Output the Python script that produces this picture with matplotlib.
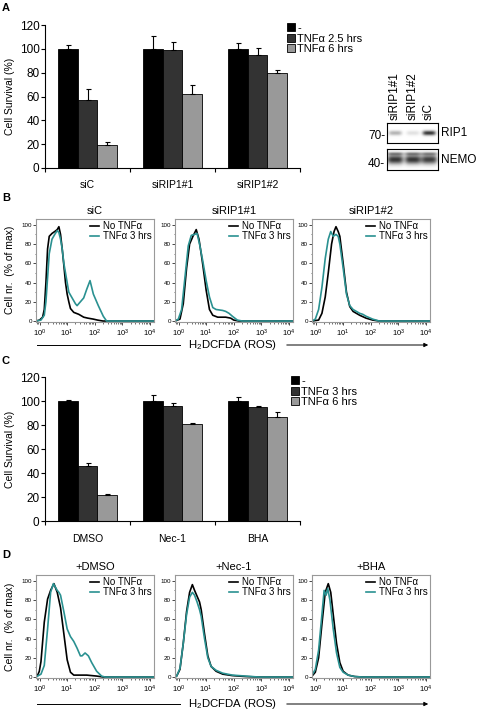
import numpy as np
import matplotlib
matplotlib.use("Agg")
import matplotlib.pyplot as plt
from matplotlib.patches import FancyArrowPatch
from matplotlib.lines import Line2D

plt.rcParams['font.family'] = ['Liberation Sans', 'DejaVu Sans']
plt.rcParams['mathtext.fontset'] = 'custom'
plt.rcParams['mathtext.rm'] = 'Liberation Sans'
plt.rcParams['mathtext.it'] = 'Liberation Sans:italic'
plt.rcParams['mathtext.bf'] = 'Liberation Sans:bold'

# ---- bar data (cell survival, %) ----
a_groups = ['siC', 'siRIP1#1', 'siRIP1#2']
a_labels = ['-', 'TNFα 2.5 hrs', 'TNFα 6 hrs']
a_ctrl = [100, 100, 100]
a_ctrl_err = [3.5, 11, 5]
a_t1 = [57, 99, 95]
a_t1_err = [9, 7, 6]
a_t2 = [19.5, 62.5, 80]
a_t2_err = [2, 7, 2]

c_groups = ['DMSO', 'Nec-1', 'BHA']
c_labels = ['-', 'TNFα 3 hrs', 'TNFα 6 hrs']
c_ctrl = [100, 100, 100]
c_ctrl_err = [1, 5, 3.5]
c_t1 = [45.5, 95.5, 95]
c_t1_err = [2.5, 2.5, 0.8]
c_t2 = [21.5, 81, 87]
c_t2_err = [1, 1, 3.5]

# ---- western blot ----
blot_lanes = ['siRIP1#1', 'siRIP1#2', 'siC']
rip1_level = [0.3, 0.12, 0.8]
nemo_level = [1.0, 1.0, 0.95]

# ---- flow histograms: log10(fluorescence), % of max ----
b_titles = ['siC', 'siRIP1#1', 'siRIP1#2']
d_titles = ['+DMSO', '+Nec-1', '+BHA']

b_sic_ctrl_x = [-0.13, 0.0, 0.11, 0.17, 0.23, 0.29, 0.35, 0.45, 0.55, 0.64, 0.70, 0.76, 0.82, 0.88, 0.94, 1.0, 1.06, 1.12, 1.24, 1.42, 1.6, 1.75, 1.95, 2.1, 2.3, 4.15]
b_sic_ctrl_y = [0, 1, 4, 12, 40, 75, 88, 91, 93, 95, 98, 90, 75, 58, 40, 28, 20, 13, 9, 7, 4, 3, 2, 1, 0, 0]
b_sic_tnf_x = [-0.13, 0.05, 0.17, 0.23, 0.29, 0.35, 0.45, 0.55, 0.64, 0.70, 0.76, 0.82, 0.88, 0.94, 1.06, 1.18, 1.3, 1.36, 1.48, 1.6, 1.71, 1.83, 1.95, 2.13, 2.31, 2.43, 4.15]
b_sic_tnf_y = [0, 1, 6, 20, 45, 70, 85, 90, 94, 92, 85, 75, 60, 50, 30, 24, 18, 16, 20, 24, 33, 42, 28, 16, 5, 0, 0]

b_r1_ctrl_x = [-0.13, 0.05, 0.17, 0.29, 0.40, 0.52, 0.64, 0.74, 0.82, 0.88, 1.0, 1.12, 1.24, 1.42, 1.71, 1.89, 2.0, 2.19, 4.15]
b_r1_ctrl_y = [0, 2, 18, 55, 80, 88, 95, 85, 70, 58, 32, 12, 6, 4, 4, 3, 1, 0, 0]
b_r1_tnf_x = [-0.13, -0.01, 0.11, 0.23, 0.35, 0.46, 0.58, 0.67, 0.76, 0.88, 1.0, 1.12, 1.24, 1.36, 1.6, 1.71, 1.83, 1.95, 2.13, 2.31, 4.15]
b_r1_tnf_y = [0, 2, 12, 45, 78, 89, 90, 91, 80, 62, 42, 25, 14, 12, 11, 10, 8, 5, 1, 0, 0]

b_r2_ctrl_x = [-0.13, 0.11, 0.23, 0.35, 0.46, 0.58, 0.67, 0.74, 0.82, 0.88, 1.0, 1.12, 1.24, 1.36, 1.6, 1.83, 2.07, 2.31, 4.15]
b_r2_ctrl_y = [0, 1, 8, 25, 50, 80, 93, 98, 93, 88, 60, 30, 15, 10, 6, 3, 1, 0, 0]
b_r2_tnf_x = [-0.13, -0.01, 0.11, 0.23, 0.35, 0.46, 0.55, 0.64, 0.74, 0.82, 0.88, 1.0, 1.12, 1.24, 1.36, 1.6, 1.71, 1.83, 2.07, 2.31, 4.15]
b_r2_tnf_y = [0, 2, 12, 35, 65, 85, 93, 88, 90, 88, 80, 55, 28, 16, 12, 8, 7, 5, 2, 0, 0]

d_dmso_ctrl_x = [-0.13, -0.07, -0.01, 0.05, 0.17, 0.29, 0.40, 0.52, 0.64, 0.76, 0.88, 1.0, 1.12, 1.24, 1.71, 2.07, 2.31, 4.15]
d_dmso_ctrl_y = [0, 2, 6, 16, 57, 81, 90, 97, 88, 72, 45, 18, 5, 2, 2, 1, 0, 0]
d_dmso_tnf_x = [-0.13, 0.05, 0.17, 0.29, 0.40, 0.50, 0.64, 0.70, 0.76, 0.88, 1.0, 1.12, 1.24, 1.36, 1.48, 1.54, 1.65, 1.77, 1.89, 2.07, 2.25, 2.37, 4.15]
d_dmso_tnf_y = [0, 3, 12, 50, 88, 97, 90, 88, 85, 68, 50, 42, 37, 30, 22, 22, 25, 22, 15, 6, 1, 0, 0]

d_nec_ctrl_x = [-0.13, -0.07, 0.05, 0.17, 0.29, 0.40, 0.50, 0.58, 0.67, 0.76, 0.82, 0.94, 1.06, 1.18, 1.36, 1.6, 1.95, 2.43, 2.9, 4.15]
d_nec_ctrl_y = [0, 1, 8, 35, 68, 88, 96, 90, 84, 78, 70, 45, 22, 11, 6, 3, 1.5, 0.5, 0, 0]
d_nec_tnf_x = [-0.13, -0.07, 0.05, 0.17, 0.29, 0.40, 0.50, 0.58, 0.67, 0.76, 0.82, 0.94, 1.06, 1.18, 1.36, 1.6, 1.95, 2.43, 2.9, 4.15]
d_nec_tnf_y = [0, 1, 9, 35, 65, 83, 88, 85, 78, 70, 63, 40, 20, 11, 7, 4, 2, 1, 0, 0]

d_bha_ctrl_x = [-0.13, -0.01, 0.11, 0.23, 0.35, 0.46, 0.55, 0.64, 0.76, 0.88, 1.0, 1.18, 1.42, 1.71, 4.15]
d_bha_ctrl_y = [1, 5, 20, 55, 88, 97, 88, 65, 35, 15, 6, 2, 0.5, 0, 0]
d_bha_tnf_x = [-0.13, -0.01, 0.11, 0.23, 0.31, 0.38, 0.44, 0.52, 0.64, 0.76, 0.88, 1.0, 1.18, 1.42, 1.71, 4.15]
d_bha_tnf_y = [2, 8, 28, 65, 90, 85, 92, 80, 50, 25, 10, 5, 2, 0.5, 0, 0]

b_curves = [(b_sic_ctrl_x, b_sic_ctrl_y, b_sic_tnf_x, b_sic_tnf_y),
            (b_r1_ctrl_x, b_r1_ctrl_y, b_r1_tnf_x, b_r1_tnf_y),
            (b_r2_ctrl_x, b_r2_ctrl_y, b_r2_tnf_x, b_r2_tnf_y)]
d_curves = [(d_dmso_ctrl_x, d_dmso_ctrl_y, d_dmso_tnf_x, d_dmso_tnf_y),
            (d_nec_ctrl_x, d_nec_ctrl_y, d_nec_tnf_x, d_nec_tnf_y),
            (d_bha_ctrl_x, d_bha_ctrl_y, d_bha_tnf_x, d_bha_tnf_y)]

W, H = 483, 713
TEAL = '#2a9191'
BAR_COLORS = ['#000000', '#333333', '#999999']

fig = plt.figure(figsize=(W / 100, H / 100), dpi=100)


def px_box(x0, y0, x1, y1):
    return [x0 / W, 1 - y1 / H, (x1 - x0) / W, (y1 - y0) / H]


def fx(x):
    return x / W


def fy(y):
    return 1 - y / H


def bar_panel(rect, groups, labels, vals, errs, legend_xy):
    ax = fig.add_axes(rect)
    x = np.arange(len(groups))
    w = 0.23
    handles = []
    for i in range(3):
        h = ax.bar(x + (i - 1) * w, vals[i], w, color=BAR_COLORS[i], edgecolor='k', lw=0.6, label=labels[i])
        ax.errorbar(x + (i - 1) * w, vals[i], yerr=[np.zeros(len(x)), errs[i]], fmt='none',
                    ecolor='k', elinewidth=0.8, capsize=1.8, capthick=0.8)
        handles.append(h)
    ax.set_xlim(-0.5, 2.5)
    ax.set_ylim(0, 120)
    ax.set_yticks(range(0, 121, 20))
    ax.tick_params(axis='y', labelsize=8.5, length=3, width=0.8, pad=1)
    ax.set_xticks([-0.5, 0.5, 1.5, 2.5])
    ax.set_xticklabels([])
    ax.tick_params(axis='x', which='major', length=3, width=0.8)
    ax.set_xticks(x, minor=True)
    ax.set_xticklabels(groups, minor=True, fontsize=7.5)
    ax.tick_params(axis='x', which='minor', length=0, pad=9)
    ax.spines['top'].set_visible(False)
    ax.spines['right'].set_visible(False)
    ax.spines['left'].set_linewidth(0.8)
    ax.spines['bottom'].set_linewidth(0.8)
    ax.set_ylabel('Cell Survival (%)', fontsize=7.5, labelpad=3)
    ax.legend(handles=handles, loc='upper left', bbox_to_anchor=legend_xy, bbox_transform=fig.transFigure,
              frameon=False, fontsize=8, handlelength=0.75, handleheight=0.75, handletextpad=0.15,
              labelspacing=0.05, borderpad=0, borderaxespad=0)
    return ax


def hist_panel(rect, curves, title):
    ax = fig.add_axes(rect)
    cx, cy, tx, ty = curves
    ax.plot(10 ** np.array(cx), cy, color='k', lw=1.2, label='No TNFα')
    ax.plot(10 ** np.array(tx), ty, color=TEAL, lw=1.2, label='TNFα 3 hrs')
    ax.set_xscale('log')
    ax.set_xlim(10 ** -0.13, 10 ** 4.15)
    ax.set_ylim(-1, 106)
    ax.set_xticks([1, 10, 100, 1000, 10000])
    ax.set_yticks(range(0, 101, 20))
    ax.set_yticks(range(0, 101, 10), minor=True)
    ax.tick_params(axis='y', which='major', labelsize=4.5, length=2, width=0.5, pad=1)
    ax.tick_params(axis='y', which='minor', length=1, width=0.4)
    ax.tick_params(axis='x', which='major', labelsize=5.5, length=2.5, width=0.5, pad=1.5)
    ax.tick_params(axis='x', which='minor', length=1.2, width=0.4)
    for s in ax.spines.values():
        s.set_color('0.6')
        s.set_linewidth(0.8)
    ax.set_title(title, fontsize=8, pad=3.5)
    ax.legend(loc='upper right', frameon=False, fontsize=7, handlelength=1.0, handletextpad=0.35,
              labelspacing=0.0, borderpad=0.15, borderaxespad=0.1)
    return ax


# panel A
bar_panel(px_box(45, 25, 300, 168), a_groups, a_labels,
          [a_ctrl, a_t1, a_t2], [a_ctrl_err, a_t1_err, a_t2_err], (fx(287), fy(23)))
# panel C
bar_panel(px_box(45, 377, 300, 521), c_groups, c_labels,
          [c_ctrl, c_t1, c_t2], [c_ctrl_err, c_t1_err, c_t2_err], (fx(291), fy(376)))

# western blot
xs = np.linspace(0, 1, 104)
lane_pos = [0.16, 0.51, 0.83]
ys_r = np.linspace(0, 1, 40)
img_r = np.zeros((40, 104))
for p, lv in zip(lane_pos, rip1_level):
    img_r += lv * np.outer(np.exp(-((ys_r - 0.5) / 0.12) ** 2), np.exp(-((xs - p) / 0.13) ** 4))
ax_r = fig.add_axes(px_box(387, 123, 438, 143))
ax_r.imshow(img_r, cmap='gray_r', vmin=0, vmax=1, aspect='auto', interpolation='bilinear')
ys_n = np.linspace(0, 1, 42)
img_n = np.zeros((42, 104))
for p, lv in zip(lane_pos, nemo_level):
    prof = 0.8 * np.exp(-((ys_n - 0.5) / 0.22) ** 2) + 0.4 * np.exp(-((ys_n - 0.22) / 0.08) ** 2)
    img_n += lv * np.outer(prof, np.exp(-((xs - p) / 0.16) ** 4))
ax_n = fig.add_axes(px_box(387, 149, 438, 170))
ax_n.imshow(np.clip(img_n, 0, 0.95), cmap='gray_r', vmin=0, vmax=1, aspect='auto', interpolation='bilinear')
for a in (ax_r, ax_n):
    a.set_xticks([])
    a.set_yticks([])
    for s in a.spines.values():
        s.set_linewidth(0.8)
for name, xl in zip(blot_lanes, [395, 413, 429]):
    fig.text(fx(xl), fy(120), name, rotation=90, ha='center', va='bottom', fontsize=8.5)
fig.text(fx(385), fy(136), '70-', ha='right', va='center', fontsize=8.5)
fig.text(fx(385), fy(164), '40-', ha='right', va='center', fontsize=8.5)
fig.text(fx(441), fy(133), 'RIP1', ha='left', va='center', fontsize=8.5)
fig.text(fx(441), fy(160), 'NEMO', ha='left', va='center', fontsize=8.5)

# panels B and D
hist_x = [(36, 154), (175, 293), (312, 430)]
for (x0, x1), t, c in zip(hist_x, b_titles, b_curves):
    hist_panel(px_box(x0, 219, x1, 322), c, t)
for (x0, x1), t, c in zip(hist_x, d_titles, d_curves):
    hist_panel(px_box(x0, 575, x1, 678), c, t)

for yc in (345, 704):
    fig.add_artist(Line2D([fx(37), fx(180)], [fy(yc), fy(yc)], transform=fig.transFigure, lw=0.7, color='k'))
    arr = FancyArrowPatch((fx(284), fy(yc)), (fx(431), fy(yc)), transform=fig.transFigure,
                          arrowstyle='-|>', mutation_scale=6, lw=0.7, color='k')
    fig.add_artist(arr)
    fig.text(fx(232), fy(yc), 'H$_2$DCFDA (ROS)', ha='center', va='center', fontsize=8.2)
for yc in (270, 627):
    fig.text(fx(10), fy(yc), 'Cell nr.  (% of max)', rotation=90, ha='center', va='center', fontsize=7.5)

for letter, yc in zip('ABCD', (8, 198, 361, 555)):
    fig.text(fx(2), fy(yc), letter, ha='left', va='center', fontsize=8, fontweight='bold')

fig.savefig('out.png', dpi=100)
